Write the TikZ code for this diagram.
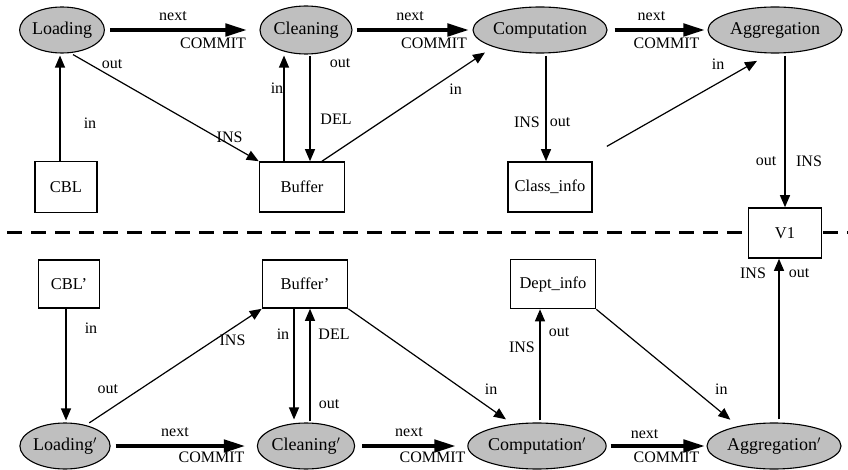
\documentclass[tikz,border=0pt]{standalone}
\usepackage{fontspec}
\setmainfont{Liberation Serif}
\usetikzlibrary{arrows.meta,shapes.geometric}

\begin{document}
\begin{tikzpicture}[x=1pt, y=-1pt,
    proc/.style={ellipse, draw, fill=gray!50, line width=1.1pt, inner sep=0pt, font=\fontsize{18}{20}\selectfont},
    store/.style={draw, fill=white, line width=1.6pt, inner sep=0pt, font=\fontsize{16.5}{18}\selectfont},
    flow/.style={-{Triangle[length=12pt,width=10pt]}, line width=1.2pt},
    seq/.style={-{Triangle[length=22pt,width=12pt]}, line width=4.5pt},
    lbl/.style={font=\fontsize{16}{18}\selectfont, inner sep=0pt}]
  \useasboundingbox (0,0) rectangle (848,470);

  % Separator between the two schedules
  \draw[line width=3pt, dash pattern=on 15pt off 9pt] (7,233) -- (848,233);

  % Top schedule: processes and tables
  \node[proc, minimum width=80pt, minimum height=46pt] (load) at (62,30) {Loading};
  \node[proc, minimum width=92pt, minimum height=48pt] (clean) at (306,30) {Cleaning};
  \node[proc, minimum width=134pt, minimum height=46pt] (comp) at (540,30) {Computation};
  \node[proc, minimum width=134pt, minimum height=46pt] (aggr) at (775,30) {Aggregation};
  \node[store, minimum width=62pt, minimum height=51pt] (cbl) at (66,187) {CBL};
  \node[store, minimum width=85pt, minimum height=50pt] (buf) at (302,187) {Buffer};
  \node[store, minimum width=84pt, minimum height=50pt] (cinfo) at (550,187) {Class\_info};
  \node[store, minimum width=73pt, minimum height=50pt] (vone) at (785,233) {V1};

  % Bottom schedule: processes and tables
  \node[store, minimum width=61pt, minimum height=48pt] (cbl2) at (69,284) {CBL'};
  \node[store, minimum width=85pt, minimum height=48pt] (buf2) at (305,284) {Buffer'};
  \node[store, minimum width=85pt, minimum height=49pt] (dinfo) at (553,284) {Dept\_info};
  \node[proc, minimum width=78pt, minimum height=46pt] (load2) at (65,446) {Loading$'$};
  \node[proc, minimum width=90pt, minimum height=46pt] (clean2) at (306,446) {Cleaning$'$};
  \node[proc, minimum width=130pt, minimum height=46pt] (comp2) at (537,446) {Computation$'$};
  \node[proc, minimum width=134pt, minimum height=46pt] (aggr2) at (774,446) {Aggregation$'$};

  % Top schedule: commit sequence
  \draw[seq, shorten <=5pt, shorten >=12pt] (load.east) -- (clean.west)
    node[lbl, pos=0.44, yshift=14pt] {next} node[lbl, pos=0.70, yshift=-13pt] {COMMIT};
  \draw[seq, shorten <=4pt, shorten >=3pt] (clean.east) -- (comp.west)
    node[lbl, pos=0.48, yshift=14pt] {next} node[lbl, pos=0.68, yshift=-13pt] {COMMIT};
  \draw[seq, shorten <=7pt, shorten >=2pt] (comp.east) -- (aggr.west)
    node[lbl, pos=0.44, yshift=14pt] {next} node[lbl, pos=0.59, yshift=-13pt] {COMMIT};

  % Top schedule: data flows
  \draw[flow, shorten >=2pt] ([xshift=-6pt]cbl.north) -- ([xshift=-6pt]cbl.north |- load.south)
    node[lbl, pos=0.35, xshift=30pt] {in};
  \draw[flow, shorten <=3pt] (load.-70) -- (buf.north west)
    node[lbl, pos=0.2, xshift=4pt, yshift=11pt] {out} node[lbl, pos=0.84, xshift=1pt, yshift=7pt] {INS};
  \draw[flow, shorten >=1pt] ([xshift=-18pt]buf.north) -- ([xshift=-18pt]buf.north |- clean.south)
    node[lbl, pos=0.685, xshift=-7pt] {in};
  \draw[flow, shorten <=1pt] ([xshift=8pt]buf.north |- clean.south) -- ([xshift=8pt]buf.north)
    node[lbl, pos=0.08, xshift=30pt] {out} node[lbl, pos=0.61, xshift=26pt] {DEL};
  \draw[flow, shorten >=10pt] ([xshift=20pt]buf.north) -- (comp.200)
    node[lbl, pos=0.78, yshift=-17pt] {in};
  \draw[flow, shorten <=2pt] ([xshift=-4pt]cinfo.north |- comp.south) -- ([xshift=-4pt]cinfo.north)
    node[lbl, pos=0.64, xshift=-19pt] {INS} node[lbl, pos=0.64, xshift=14pt] {out};
  \draw[flow, shorten <=30pt, shorten >=15pt] ([xshift=-12pt]cinfo.north east) -- (aggr.-102)
    node[lbl, pos=0.726, yshift=19pt] {in};
  \draw[flow, shorten <=2pt] (vone.north |- aggr.south) -- (vone.north)
    node[lbl, pos=0.70, xshift=-19pt] {out} node[lbl, pos=0.70, xshift=24pt] {INS};

  % Bottom schedule: commit sequence
  \draw[seq, shorten <=5pt, shorten >=11pt] (load2.east) -- (clean2.west)
    node[lbl, pos=0.44, yshift=14pt] {next} node[lbl, pos=0.69, yshift=-11pt] {COMMIT};
  \draw[seq, shorten <=7pt, shorten >=11pt] (clean2.east) -- (comp2.west)
    node[lbl, pos=0.48, yshift=14pt] {next} node[lbl, pos=0.69, yshift=-11pt] {COMMIT};
  \draw[seq, shorten <=4pt, shorten >=1pt] (comp2.east) -- (aggr2.west)
    node[lbl, pos=0.38, yshift=12pt] {next} node[lbl, pos=0.60, yshift=-11pt] {COMMIT};

  % Bottom schedule: data flows
  \draw[flow, shorten >=2pt] ([xshift=-3pt]cbl2.south) -- ([xshift=-3pt]cbl2.south |- load2.north)
    node[lbl, pos=0.175, xshift=25pt] {in};
  \draw[flow, shorten <=4pt] (load2.45) -- (buf2.south west)
    node[lbl, pos=0.125, yshift=21pt] {out} node[lbl, pos=0.834, yshift=-12pt] {INS};
  \draw[flow, shorten >=3pt] ([xshift=-11pt]buf2.south) -- ([xshift=-11pt]buf2.south |- clean2.north)
    node[lbl, pos=0.22, xshift=-11pt] {in};
  \draw[flow, shorten <=1pt] ([xshift=5pt]buf2.south |- clean2.north) -- ([xshift=5pt]buf2.south)
    node[lbl, pos=0.16, xshift=19pt] {out} node[lbl, pos=0.78, xshift=24pt] {DEL};
  \draw[flow, shorten >=8pt] (buf2.south east) -- (comp2.138)
    node[lbl, pos=0.87, yshift=20pt] {in};
  \draw[flow, shorten <=2pt] ([xshift=-13pt]dinfo.south |- comp2.north) -- ([xshift=-13pt]dinfo.south)
    node[lbl, pos=0.66, xshift=-18pt] {INS} node[lbl, pos=0.80, xshift=19pt] {out};
  \draw[flow, shorten >=10pt] (dinfo.south east) -- (aggr2.151)
    node[lbl, pos=0.883, yshift=23pt] {in};
  \draw[flow, shorten <=3pt] ([xshift=-6pt]vone.south |- aggr2.north) -- ([xshift=-6pt]vone.south)
    node[lbl, pos=0.91, xshift=-26pt] {INS} node[lbl, pos=0.91, xshift=20pt] {out};
\end{tikzpicture}
\end{document}
